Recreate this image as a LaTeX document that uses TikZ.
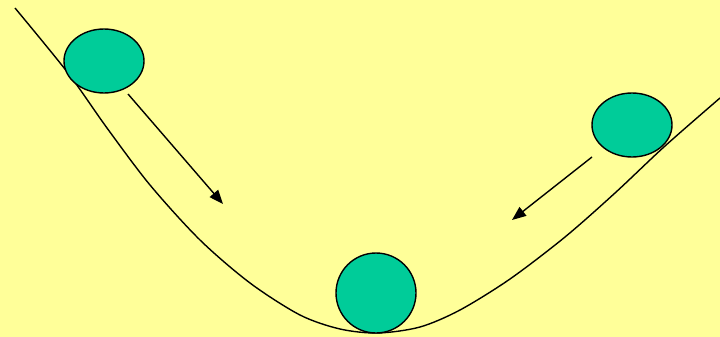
\documentclass[tikz,border=0pt]{standalone}
\definecolor{paleyellow}{HTML}{FFFF99}
\definecolor{teal}{HTML}{00CC99}
\usetikzlibrary{shapes.geometric,arrows.meta,positioning}

\begin{document}
\begin{tikzpicture}[
  x=1pt, y=-1pt,
  ball/.style={ellipse, draw=black, line width=1.4pt, fill=teal, inner sep=0pt, minimum width=80pt, minimum height=64pt},
  slide/.style={draw=black, line width=1.4pt, -{Triangle[length=14pt, width=11pt]}},
]
\fill[paleyellow] (0,0) rectangle (720,337);
\useasboundingbox (0,0) rectangle (720,337);
% valley
\draw[line width=1.4pt] plot[smooth, tension=0.5] coordinates {
  (15,8) (68,73) (107,128) (150,185) (200,240) (250,283) (300,315)
  (340,329) (378,333) (420,327) (460,310) (510,279) (565,237)
  (615,193) (665,146) (720,98)};
% balls
\node[ball] (ballL) at (104,61) {};
\node[ball] (ballR) at (632,125) {};
\node[ball, minimum width=80pt, minimum height=80pt] (ballB) at (376,293) {};
% arrows
\coordinate (startL) at (128,94);
\coordinate (endL) at (223,204);
\coordinate (startR) at (592,157);
\coordinate (endR) at (512,220);
\draw[slide] (startL) -- (endL);
\draw[slide] (startR) -- (endR);
\end{tikzpicture}
\end{document}
